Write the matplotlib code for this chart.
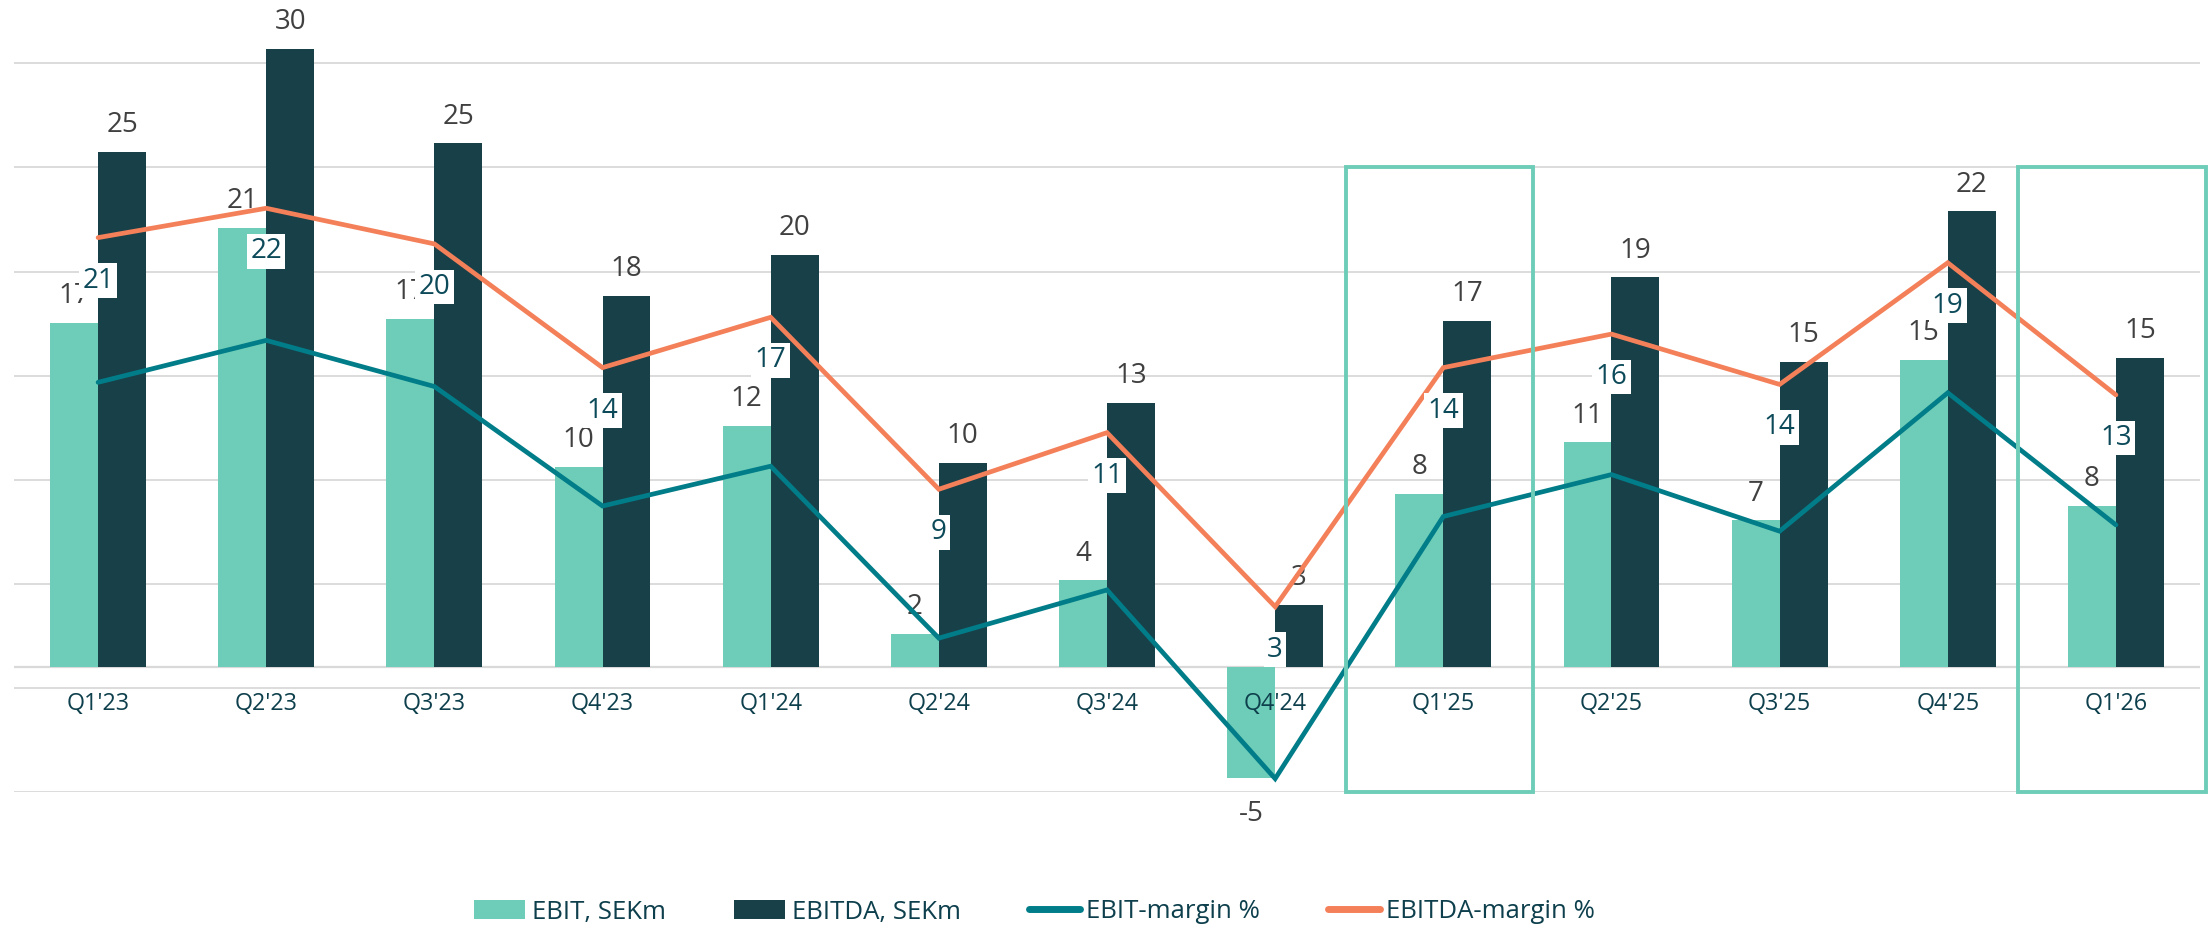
import matplotlib
matplotlib.use('Agg')
import matplotlib.pyplot as plt
from matplotlib.patches import Rectangle, Patch
from matplotlib.lines import Line2D
from matplotlib.transforms import blended_transform_factory
import numpy as np

plt.rcParams['font.family'] = ['Open Sans', 'DejaVu Sans']

# ---- data ----
categories = ["Q1'23", "Q2'23", "Q3'23", "Q4'23", "Q1'24", "Q2'24", "Q3'24",
              "Q4'24", "Q1'25", "Q2'25", "Q3'25", "Q4'25", "Q1'26"]
ebit = [16.7, 21.3, 16.9, 9.7, 11.7, 1.6, 4.2, -5.4, 8.4, 10.9, 7.1, 14.9, 7.8]
ebitda = [25.0, 30.0, 25.4, 18.0, 20.0, 9.9, 12.8, 3.0, 16.8, 18.9, 14.8, 22.1, 15.0]
ebit_margin = [13.7, 15.7, 13.5, 7.8, 9.7, 1.5, 3.8, -5.2, 7.3, 9.3, 6.6, 13.2, 6.9]
ebitda_margin = [20.6, 22.0, 20.3, 14.4, 16.8, 8.6, 11.3, 3.0, 14.4, 16.0, 13.6, 19.4, 13.1]
highlighted = ["Q1'25", "Q1'26"]
series_names = ["EBIT, SEKm", "EBITDA, SEKm", "EBIT-margin %", "EBITDA-margin %"]

# ---- styles ----
C_EBIT = '#6ECDB8'
C_EBITDA = '#184049'
C_EBITM = '#007D88'
C_EBITDAM = '#F4805A'
C_GRID = '#D9D9D9'
C_LBL = '#404040'
C_CAT = '#0D3F4C'
C_BOXTXT = '#0C4A5A'

W, H = 2211, 927
fig = plt.figure(figsize=(W / 100, H / 100), dpi=100)
L, R, T, B = 14, 2200, 10, 792
rect = [L / W, 1 - B / H, (R - L) / W, (B - T) / H]
n = len(categories)
x = np.arange(n)

# gridline axes (behind)
axg = fig.add_axes(rect)
axg.set_xlim(-0.5, n - 0.5)
axg.set_ylim(0, (B - T) / 104.1)
axg.set_yticks(range(8))
axg.grid(axis='y', color=C_GRID, lw=1.3)
axg.tick_params(left=False, bottom=False, labelleft=False, labelbottom=False)
for s in axg.spines.values():
    s.set_visible(False)

# bars axes
ax = fig.add_axes(rect, sharex=axg)
ax.patch.set_visible(False)
for s in ax.spines.values():
    s.set_visible(False)
bw = 0.285
ax.axhline(0, color=C_GRID, lw=1.6, zorder=0.5)
ax.bar(x - bw / 2, ebit, bw, color=C_EBIT, zorder=1, clip_on=False)
ax.bar(x + bw / 2, ebitda, bw, color=C_EBITDA, zorder=1, clip_on=False)
for xi, v in zip(x - bw / 2, ebit):
    ax.annotate(f"{v:.0f}", xy=(xi, v), xytext=(0, 19.6 if v >= 0 else -43),
                textcoords='offset pixels', ha='center', va='baseline',
                fontsize=20, color=C_LBL, zorder=3)
for xi, v in zip(x + bw / 2, ebitda):
    ax.annotate(f"{v:.0f}", xy=(xi, v), xytext=(0, 19.6 if v >= 0 else -43),
                textcoords='offset pixels', ha='center', va='baseline',
                fontsize=20, color=C_LBL, zorder=3)
for xi, c in zip(x, categories):
    ax.annotate(c, xy=(xi, 0), xytext=(0, -43.3), textcoords='offset pixels',
                ha='center', va='baseline', fontsize=16.8, color=C_CAT, zorder=4)
ax.set_ylim(-125.3 / 20.6, 656.7 / 20.6)

# margin axes
ax2 = ax.twinx()
for s in ax2.spines.values():
    s.set_visible(False)
ax2.plot(x, ebit_margin, color=C_EBITM, lw=3.4, solid_capstyle='round',
         solid_joinstyle='miter', zorder=3)
ax2.plot(x, ebitda_margin, color=C_EBITDAM, lw=3.4, solid_capstyle='round',
         solid_joinstyle='miter', zorder=3)
for xi, v in zip(x, ebitda_margin):
    ax2.annotate(f"{v:.0f}", xy=(xi, v), xytext=(0, -50), textcoords='offset pixels',
                 ha='center', va='baseline', fontsize=20, color=C_BOXTXT, zorder=6,
                 bbox=dict(boxstyle='square,pad=0.12', fc='white', ec='none'))

trans = blended_transform_factory(ax2.transData, axg.transData)
for c in highlighted:
    i = categories.index(c)
    ax2.add_patch(Rectangle((i - 0.58, 0), 1.115, 6, transform=trans, fill=False,
                            ec=C_EBIT, lw=2.8, zorder=7, clip_on=False))
ax2.set_ylim(-(B - 669.6) / 20.97, (669.6 - T) / 20.97)
ax.set_xlim(-0.5, n - 0.5)

# remove all ticks (after twinx, which re-enables left ticks)
for a in (ax, ax2):
    a.tick_params(left=False, right=False, bottom=False, top=False,
                  labelleft=False, labelright=False, labelbottom=False)

handles = [Patch(fc=C_EBIT, ec='none'), Patch(fc=C_EBITDA, ec='none'),
           Line2D([], [], color=C_EBITM, lw=5, solid_capstyle='round'),
           Line2D([], [], color=C_EBITDAM, lw=5, solid_capstyle='round')]
fig.legend(handles, series_names, loc='center', bbox_to_anchor=(1034.5 / W, 1 - 912 / H),
           ncol=4, frameon=False, fontsize=18.5, handlelength=2.0, handleheight=0.71,
           handletextpad=0.25, columnspacing=2.65, labelcolor=C_CAT, borderpad=0)

fig.savefig('out.png', dpi=100)
